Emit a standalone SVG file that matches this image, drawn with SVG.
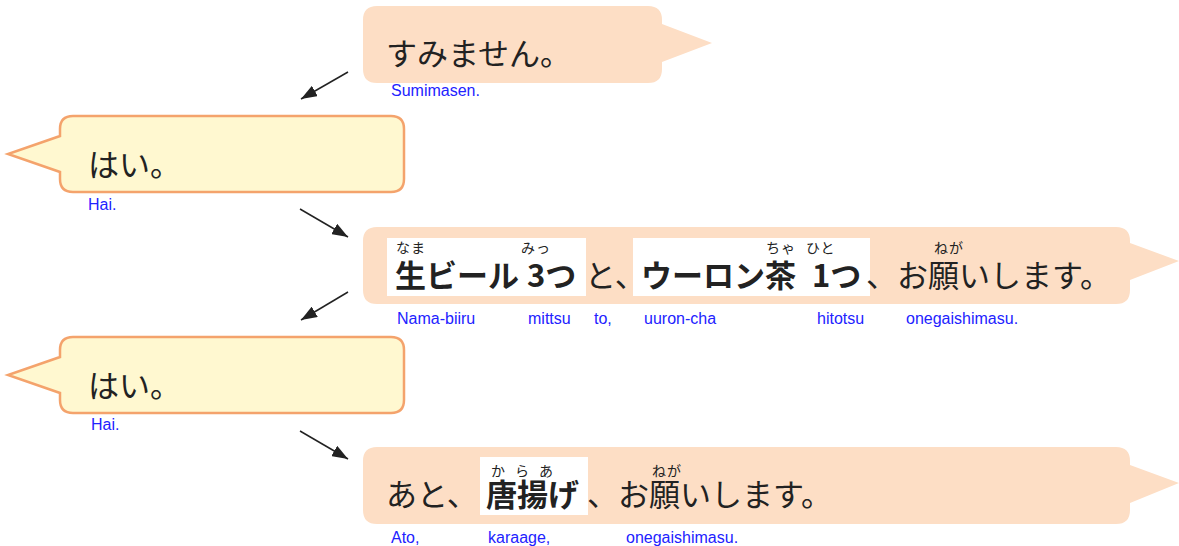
<svg xmlns="http://www.w3.org/2000/svg" width="1179" height="546" viewBox="0 0 1179 546">
<defs>
<style>
.peach{fill:#FDDEC5;stroke:none}
.cream{fill:#FFF8D0;stroke:#F4A36C;stroke-width:2.5}
.hl{fill:#FFFFFF}
.jp{font-family:"Noto Sans CJK JP","Noto Sans CJK SC",sans-serif;font-size:31px;fill:#222222}
.b{font-weight:bold}
.rb{font-family:"Noto Sans CJK JP","Noto Sans CJK SC",sans-serif;font-size:14px;fill:#222222}
.ro{font-family:"Liberation Sans",Arial,sans-serif;font-size:16px;fill:#2222FF}
</style>
<marker id="ah2" viewBox="0 0 16 12" refX="16" refY="6" markerWidth="16" markerHeight="12" markerUnits="userSpaceOnUse" orient="auto">
<path d="M0,0 L16,6 L0,12 Z" fill="#222222"/>
</marker>
</defs>

<g id="connectors" stroke="#222222" stroke-width="1.5">
<line x1="348" y1="72" x2="301" y2="99" marker-end="url(#ah2)"/>
<line x1="300" y1="209" x2="348" y2="237" marker-end="url(#ah2)"/>
<line x1="348" y1="292" x2="301" y2="320" marker-end="url(#ah2)"/>
<line x1="300" y1="431" x2="348" y2="459" marker-end="url(#ah2)"/>
</g>

<g id="bubble1">
<path class="peach" d="M377,6 H648 Q662,6 662,20 V24 L712,43 L662,62 V69 Q662,83 648,83 H377 Q363,83 363,69 V20 Q363,6 377,6 Z"/>
<text class="jp" x="386" y="65">すみません。</text>
<text class="ro" x="391" y="96">Sumimasen.</text>
</g>

<g id="bubble2">
<path class="cream" d="M73,116 H391 Q404,116 404,129 V179 Q404,192 391,192 H73 Q60,192 60,179 V172 L8,154 L60,136 V129 Q60,116 73,116 Z"/>
<text class="jp" x="88" y="176">はい。</text>
<text class="ro" x="88" y="210">Hai.</text>
</g>

<g id="bubble3">
<path class="peach" d="M377,227 H1116 Q1130,227 1130,241 V243 L1179,261 L1130,280 V290 Q1130,304 1116,304 H377 Q363,304 363,290 V241 Q363,227 377,227 Z"/>
<rect class="hl" x="387" y="238" width="199" height="58"/>
<rect class="hl" x="633" y="238" width="237" height="58"/>
<text class="rb" x="396" y="253" letter-spacing="1">なま</text>
<text class="rb" x="521" y="253" letter-spacing="1">みっ</text>
<text class="rb" x="766" y="253" letter-spacing="1">ちゃ</text>
<text class="rb" x="806" y="253" letter-spacing="1">ひと</text>
<text class="rb" x="934" y="253" letter-spacing="1">ねが</text>
<text class="jp b" x="395" y="287" font-size="29">生ビール</text>
<text class="jp b" x="527" y="287" font-size="30">3つ</text>
<text class="jp" x="585" y="287">と、</text>
<text class="jp b" x="641" y="287">ウーロン茶</text>
<text class="jp b" x="812" y="287">1つ</text>
<text class="jp" x="866" y="287">、お願いします。</text>
<text class="ro" x="397" y="324">Nama-biiru</text>
<text class="ro" x="528" y="324">mittsu</text>
<text class="ro" x="594" y="324">to,</text>
<text class="ro" x="644" y="324">uuron-cha</text>
<text class="ro" x="817" y="324">hitotsu</text>
<text class="ro" x="906" y="324">onegaishimasu.</text>
</g>

<g id="bubble4">
<path class="cream" d="M73,337 H391 Q404,337 404,350 V400 Q404,413 391,413 H73 Q60,413 60,400 V393 L8,375 L60,357 V350 Q60,337 73,337 Z"/>
<text class="jp" x="88" y="397">はい。</text>
<text class="ro" x="91" y="430">Hai.</text>
</g>

<g id="bubble5">
<path class="peach" d="M377,447 H1116 Q1130,447 1130,461 V465 L1179,483 L1130,503 V510 Q1130,524 1116,524 H377 Q363,524 363,510 V461 Q363,447 377,447 Z"/>
<rect class="hl" x="480" y="457" width="108" height="58"/>
<text class="rb" x="491" y="476" letter-spacing="10">からあ</text>
<text class="rb" x="652" y="476" letter-spacing="1">ねが</text>
<text class="jp" x="386" y="506">あと、</text>
<text class="jp b" x="486" y="506">唐揚げ</text>
<text class="jp" x="587" y="506">、お願いします。</text>
<text class="ro" x="391" y="543">Ato,</text>
<text class="ro" x="488" y="543">karaage,</text>
<text class="ro" x="626" y="543">onegaishimasu.</text>
</g>
</svg>
